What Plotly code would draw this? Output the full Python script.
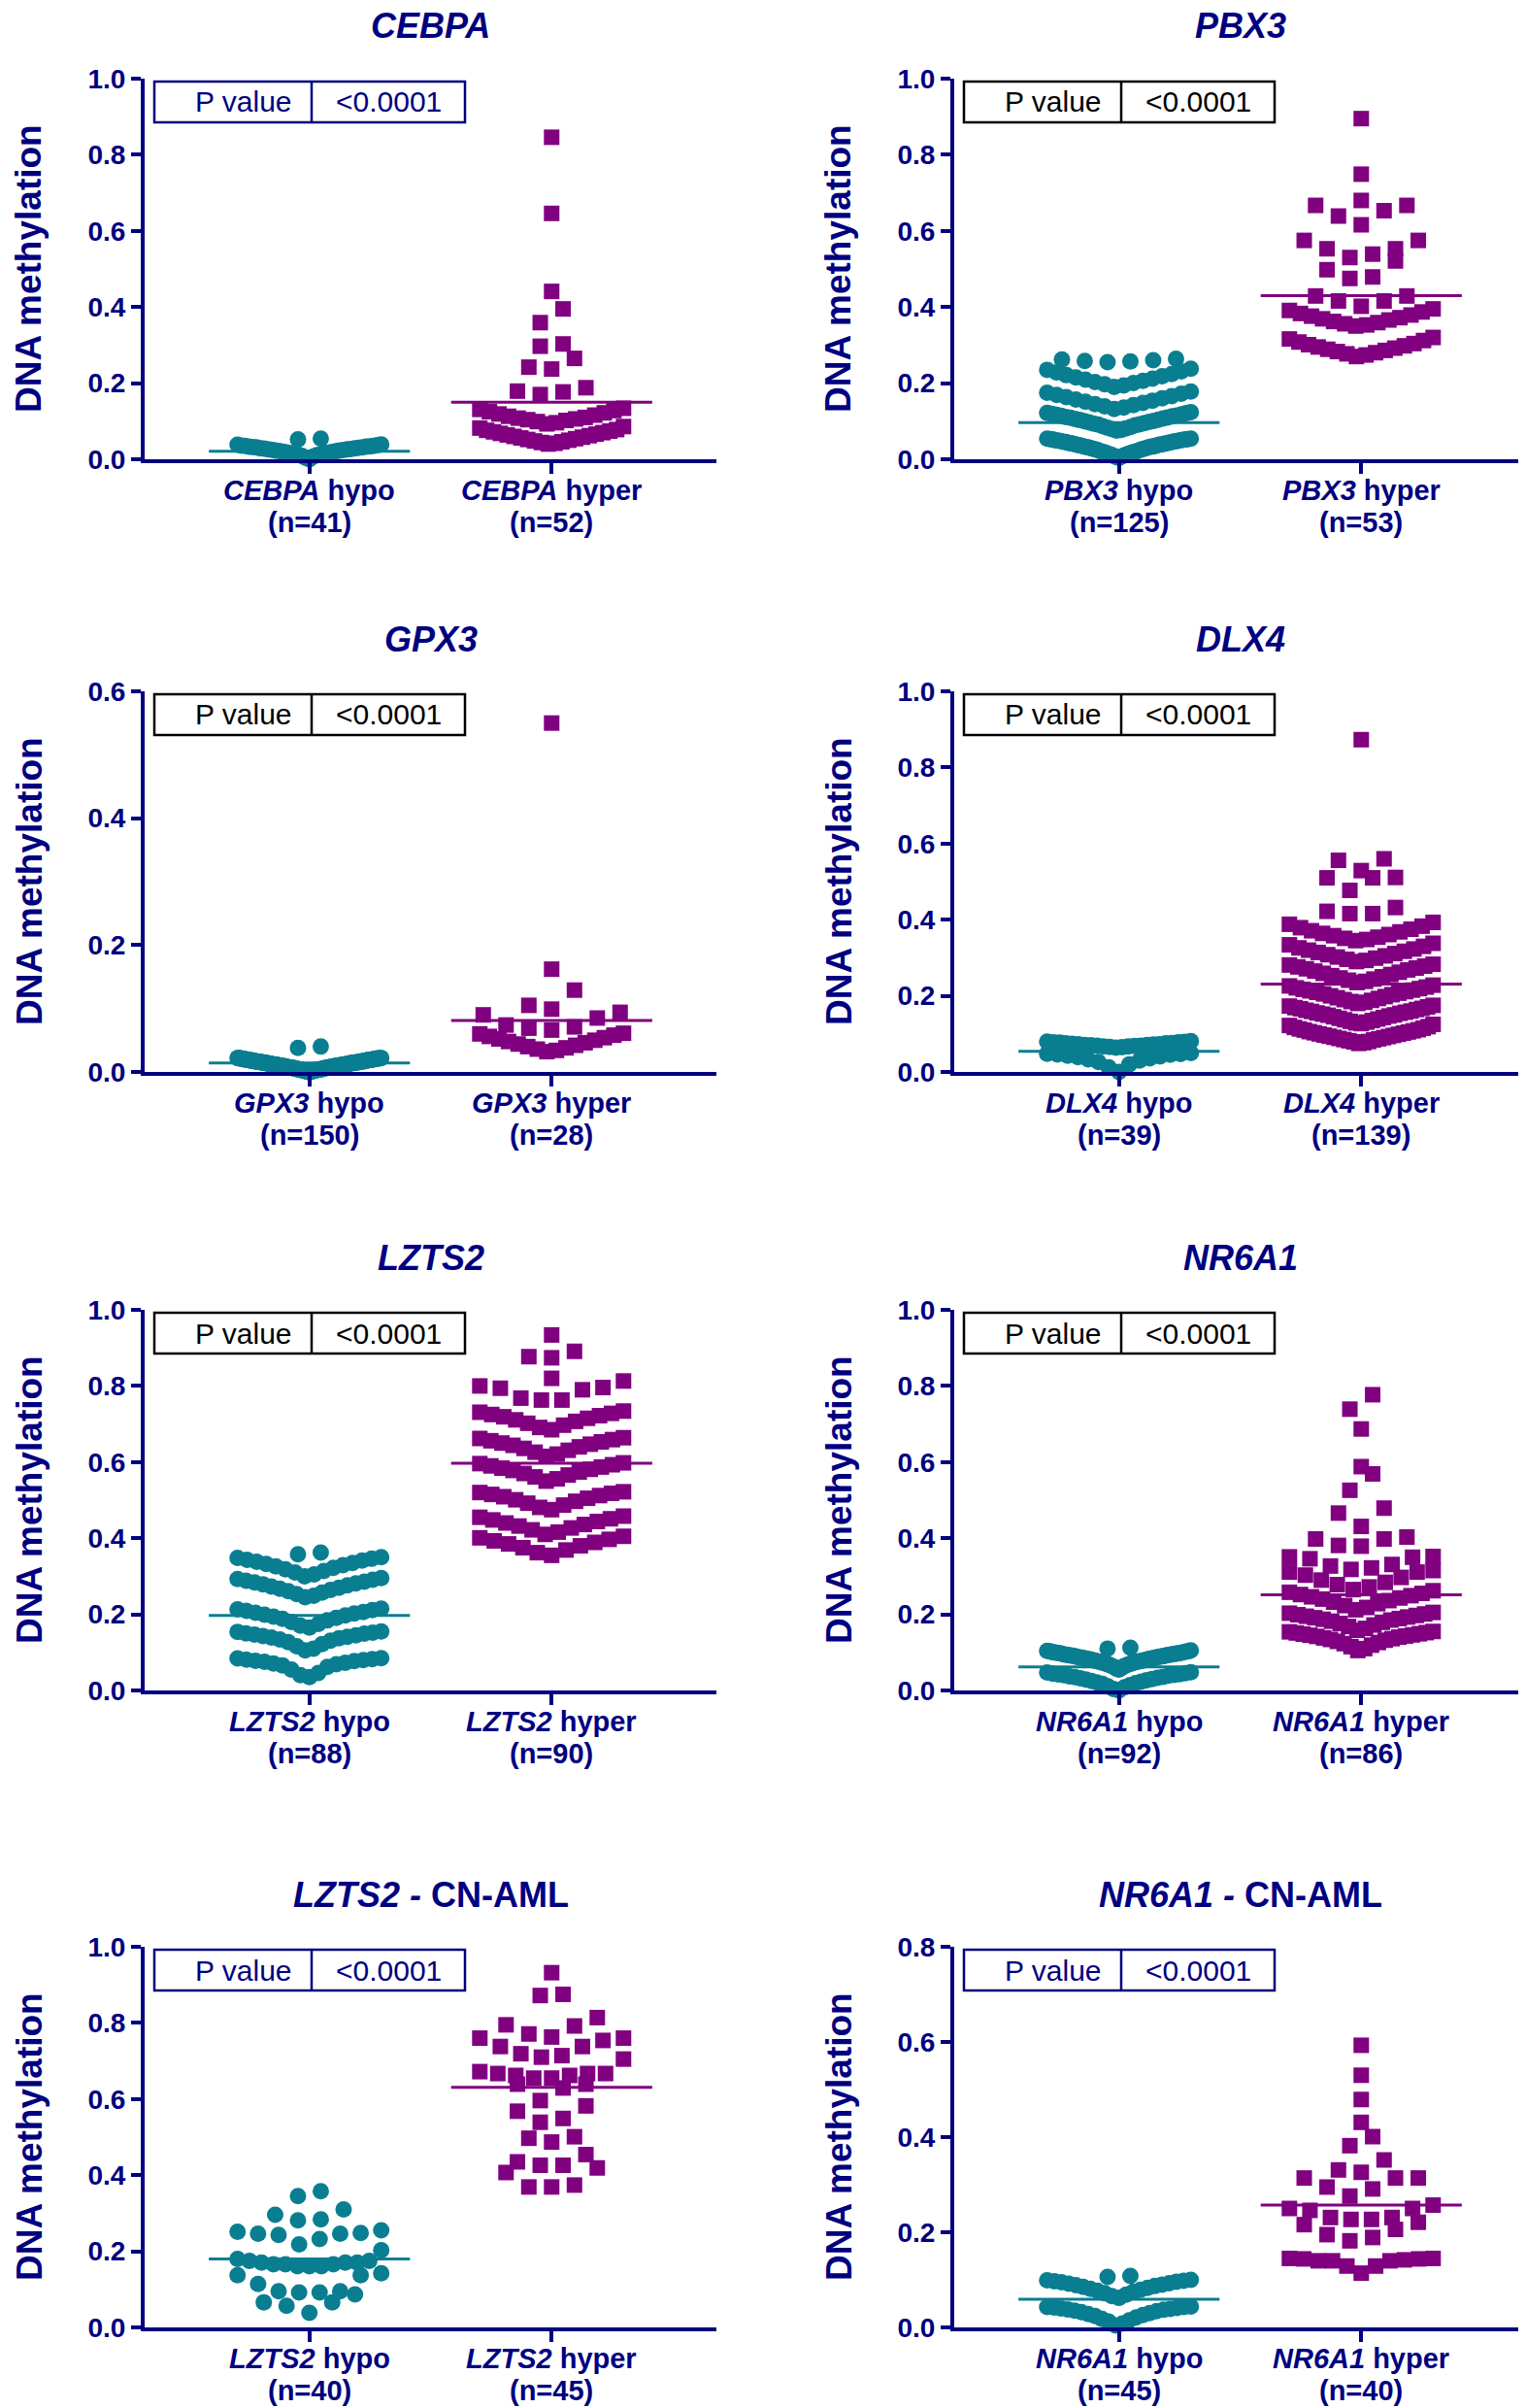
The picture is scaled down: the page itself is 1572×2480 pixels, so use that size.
import plotly.graph_objects as go

PAGE_W, PAGE_H = 1572, 2480
BODY = 8                      # default page margin before the figure
W, H = PAGE_W - BODY, PAGE_H - BODY
NAVY = "#000080"
TEAL = "#0a7e91"
PURPLE = "#800080"
FONT = "Liberation Sans, Arial, Helvetica, sans-serif"

# ---------------- panel descriptors ----------------
genes = ["CEBPA", "PBX3", "GPX3", "DLX4", "LZTS2", "NR6A1", "LZTS2", "NR6A1"]
cn_aml = [False, False, False, False, False, False, True, True]
y_max = [1.0, 1.0, 0.6, 1.0, 1.0, 1.0, 1.0, 0.8]
n_hypo = [41, 125, 150, 39, 88, 92, 40, 45]
n_hyper = [52, 53, 28, 139, 90, 86, 45, 40]
mean_hypo = [0.021, 0.096, 0.014, 0.054, 0.197, 0.062, 0.180, 0.059]
mean_hyper = [0.150, 0.430, 0.081, 0.231, 0.597, 0.251, 0.631, 0.257]
p_text = ["P value", "&lt;0.0001"]
box_navy = [True, False, False, False, False, False, True, True]

# ---------------- values ----------------
cebpa_hypo = [0.000, 0.004, 0.007, 0.009, 0.011, 0.012, 0.013, 0.014, 0.015, 0.016,
              0.017, 0.018, 0.019, 0.020, 0.021, 0.022, 0.023, 0.023, 0.024, 0.025,
              0.026, 0.026, 0.027, 0.028, 0.029, 0.029, 0.030, 0.031, 0.031, 0.032,
              0.033, 0.033, 0.034, 0.035, 0.035, 0.036, 0.037, 0.038, 0.039, 0.052, 0.054]
cebpa_hyper = [0.040, 0.042, 0.044, 0.046, 0.048, 0.050, 0.052, 0.054, 0.056, 0.058,
               0.060, 0.062, 0.064, 0.066, 0.068, 0.070, 0.072, 0.074, 0.076, 0.078,
               0.082, 0.086,
               0.093, 0.096, 0.099, 0.102, 0.104, 0.106, 0.108, 0.110, 0.113, 0.116,
               0.119, 0.122, 0.125, 0.128, 0.131, 0.134,
               0.170, 0.177, 0.179, 0.188, 0.237, 0.242, 0.265, 0.297, 0.303, 0.359,
               0.395, 0.441, 0.646, 0.846]

pbx3_hypo = [0.004, 0.006, 0.007, 0.009, 0.010, 0.012, 0.013, 0.014, 0.015, 0.017,
             0.018, 0.019, 0.020, 0.021, 0.022, 0.024, 0.025, 0.026, 0.027, 0.028,
             0.029, 0.030, 0.031, 0.032, 0.033, 0.033, 0.034, 0.035, 0.036, 0.037,
             0.038, 0.038, 0.039, 0.040, 0.041, 0.042, 0.042, 0.043, 0.044, 0.045,
             0.045, 0.046, 0.047, 0.048, 0.048, 0.049, 0.050, 0.050, 0.051, 0.052,
             0.052, 0.053, 0.053, 0.054, 0.054,
             0.075, 0.077, 0.079, 0.081, 0.083, 0.085, 0.087, 0.089, 0.091, 0.092,
             0.094, 0.095, 0.097, 0.098, 0.100, 0.101, 0.103, 0.104, 0.106, 0.107,
             0.109, 0.110, 0.111, 0.113, 0.114, 0.115, 0.117, 0.118, 0.119, 0.121,
             0.122, 0.124,
             0.132, 0.136, 0.139, 0.142, 0.145, 0.148, 0.151, 0.154, 0.157, 0.160,
             0.163, 0.166, 0.169, 0.172, 0.175, 0.178,
             0.190, 0.194, 0.197, 0.200, 0.203, 0.206, 0.209, 0.212, 0.215, 0.218,
             0.221, 0.224, 0.228, 0.231, 0.235, 0.238,
             0.255, 0.257, 0.258, 0.260, 0.262, 0.264]
pbx3_hyper = [0.270, 0.274, 0.277, 0.280, 0.283, 0.286, 0.289, 0.292, 0.295, 0.298,
              0.301, 0.304, 0.308, 0.312, 0.316, 0.320,
              0.350, 0.353, 0.356, 0.359, 0.362, 0.366, 0.369, 0.372, 0.376, 0.379,
              0.383, 0.387, 0.391, 0.395,
              0.402, 0.416, 0.416, 0.429, 0.429, 0.475, 0.479, 0.498, 0.521, 0.530,
              0.539, 0.553, 0.553, 0.575, 0.575, 0.616, 0.639, 0.653, 0.667, 0.667,
              0.680, 0.749, 0.895]

gpx3_hypo = [0.000, 0.000, 0.000, 0.000, 0.001, 0.001, 0.001, 0.001, 0.002, 0.002,
             0.002, 0.002, 0.002, 0.003, 0.003, 0.003, 0.003, 0.003, 0.004, 0.004,
             0.004, 0.004, 0.004, 0.004, 0.005, 0.005, 0.005, 0.005, 0.005, 0.005,
             0.006, 0.006, 0.006, 0.006, 0.006, 0.006, 0.007, 0.007, 0.007, 0.007,
             0.007, 0.007, 0.007, 0.008, 0.008, 0.008, 0.008, 0.008, 0.008, 0.008,
             0.009, 0.009, 0.009, 0.009, 0.009, 0.009, 0.009, 0.010, 0.010, 0.010,
             0.010, 0.010, 0.010, 0.010, 0.011, 0.011, 0.011, 0.011, 0.011, 0.011,
             0.011, 0.012, 0.012, 0.012, 0.012, 0.012, 0.012, 0.012, 0.013, 0.013,
             0.013, 0.013, 0.013, 0.013, 0.013, 0.014, 0.014, 0.014, 0.014, 0.014,
             0.014, 0.014, 0.015, 0.015, 0.015, 0.015, 0.015, 0.015, 0.015, 0.015,
             0.016, 0.016, 0.016, 0.016, 0.016, 0.016, 0.016, 0.017, 0.017, 0.017,
             0.017, 0.017, 0.017, 0.017, 0.018, 0.018, 0.018, 0.018, 0.018, 0.018,
             0.018, 0.019, 0.019, 0.019, 0.019, 0.019, 0.019, 0.019, 0.020, 0.020,
             0.020, 0.020, 0.020, 0.020, 0.020, 0.021, 0.021, 0.021, 0.021, 0.021,
             0.021, 0.021, 0.022, 0.022, 0.022, 0.022, 0.022, 0.022,
             0.038, 0.040]
gpx3_hyper = [0.032, 0.034, 0.036, 0.038, 0.040, 0.042, 0.044, 0.046, 0.048, 0.050,
              0.052, 0.054, 0.056, 0.058, 0.060, 0.061,
              0.066, 0.069, 0.071, 0.074, 0.085, 0.090, 0.094,
              0.099, 0.105, 0.129, 0.162, 0.550]

dlx4_hypo = [0.000, 0.012, 0.020, 0.026, 0.030, 0.033, 0.036, 0.039, 0.041, 0.043,
             0.045, 0.046, 0.047, 0.048, 0.050,
             0.064, 0.065, 0.066, 0.067, 0.067, 0.068, 0.069, 0.069, 0.070, 0.071,
             0.071, 0.072, 0.073, 0.073, 0.074, 0.075, 0.075, 0.076, 0.077, 0.078,
             0.078, 0.079, 0.080, 0.081]
dlx4_hyper = [0.075, 0.077, 0.079, 0.080, 0.082, 0.084, 0.085, 0.087, 0.088, 0.090,
              0.091, 0.093, 0.094, 0.096, 0.097, 0.099, 0.100, 0.102, 0.103, 0.105,
              0.106, 0.108, 0.110, 0.111, 0.113, 0.115, 0.117, 0.119, 0.122, 0.125,
              0.127, 0.129, 0.131, 0.133, 0.135, 0.137, 0.139, 0.141, 0.143, 0.145,
              0.147, 0.149, 0.150, 0.152, 0.154, 0.155, 0.157, 0.159, 0.160, 0.162,
              0.164, 0.166, 0.167, 0.169, 0.171, 0.173, 0.175,
              0.180, 0.183, 0.185, 0.188, 0.190, 0.193, 0.195, 0.198, 0.200, 0.203,
              0.205, 0.207, 0.209, 0.211, 0.213, 0.215, 0.217, 0.219, 0.221, 0.223,
              0.226, 0.228,
              0.235, 0.238, 0.241, 0.244, 0.247, 0.250, 0.253, 0.256, 0.259, 0.262,
              0.265, 0.268, 0.271, 0.273, 0.276, 0.278, 0.281, 0.283,
              0.290, 0.293, 0.296, 0.299, 0.302, 0.305, 0.308, 0.311, 0.314, 0.317,
              0.320, 0.323, 0.326, 0.330, 0.334, 0.338,
              0.345, 0.348, 0.351, 0.354, 0.358, 0.361, 0.364, 0.368, 0.371, 0.375,
              0.379, 0.383, 0.388, 0.393,
              0.416, 0.416, 0.422, 0.432, 0.477, 0.510, 0.510, 0.511, 0.529, 0.556,
              0.560, 0.873]

lzts2_hypo = [0.035, 0.040, 0.046, 0.055, 0.062, 0.066, 0.069, 0.071, 0.073, 0.075,
              0.077, 0.078, 0.080, 0.081, 0.082, 0.084, 0.085,
              0.105, 0.110, 0.116, 0.122, 0.127, 0.131, 0.134, 0.137, 0.139, 0.141,
              0.143, 0.145, 0.147, 0.149, 0.150, 0.152, 0.154, 0.155,
              0.165, 0.170, 0.175, 0.180, 0.184, 0.188, 0.191, 0.194, 0.197, 0.199,
              0.202, 0.204, 0.206, 0.209, 0.211, 0.213, 0.215,
              0.245, 0.249, 0.253, 0.257, 0.261, 0.264, 0.267, 0.270, 0.273, 0.276,
              0.279, 0.281, 0.284, 0.286, 0.288, 0.291, 0.293, 0.295,
              0.300, 0.305, 0.310, 0.314, 0.318, 0.322, 0.326, 0.329, 0.332, 0.335,
              0.338, 0.341, 0.343, 0.346, 0.348, 0.350,
              0.358, 0.362]
lzts2_hyper = [0.355, 0.362, 0.369, 0.375, 0.380, 0.385, 0.389, 0.393, 0.397, 0.401,
               0.405,
               0.410, 0.416, 0.422, 0.427, 0.432, 0.436, 0.440, 0.444, 0.448, 0.451,
               0.455, 0.458,
               0.475, 0.481, 0.487, 0.492, 0.497, 0.501, 0.505, 0.509, 0.512, 0.515,
               0.518, 0.520, 0.522,
               0.550, 0.556, 0.561, 0.566, 0.570, 0.574, 0.578, 0.581, 0.584, 0.587,
               0.590, 0.593, 0.596, 0.598,
               0.615, 0.621, 0.626, 0.631, 0.636, 0.640, 0.644, 0.647, 0.650, 0.653,
               0.656, 0.659, 0.662, 0.664,
               0.685, 0.691, 0.697, 0.702, 0.707, 0.711, 0.715, 0.719, 0.722, 0.725,
               0.728, 0.731, 0.734,
               0.763, 0.763, 0.768, 0.790, 0.794, 0.796, 0.800, 0.813, 0.820, 0.874,
               0.877, 0.891, 0.934]

nr6a1_hypo = [0.000, 0.004, 0.008, 0.011, 0.014, 0.017, 0.019, 0.021, 0.023, 0.025,
              0.027, 0.029, 0.030, 0.032, 0.033, 0.035, 0.036, 0.037, 0.039, 0.040,
              0.041, 0.042, 0.043, 0.044, 0.045, 0.047, 0.048,
              0.055, 0.057, 0.059, 0.061, 0.063, 0.064, 0.066, 0.067, 0.068, 0.069,
              0.070, 0.071, 0.072, 0.073, 0.074, 0.075, 0.075, 0.076, 0.077, 0.078,
              0.078, 0.079, 0.080, 0.081, 0.081, 0.082, 0.083, 0.083, 0.084, 0.085,
              0.085, 0.086, 0.087, 0.087, 0.088, 0.088, 0.089, 0.090, 0.090, 0.091,
              0.091, 0.092, 0.093, 0.093, 0.094, 0.094, 0.095, 0.095, 0.096, 0.097,
              0.097, 0.098, 0.098, 0.099, 0.099, 0.100, 0.101, 0.101, 0.102, 0.103,
              0.103, 0.104, 0.105,
              0.110, 0.112]
nr6a1_hyper = [0.105, 0.110, 0.115, 0.119, 0.123, 0.126, 0.129, 0.132, 0.134, 0.136,
               0.138, 0.140, 0.142, 0.143, 0.145, 0.146, 0.148, 0.149, 0.151, 0.152,
               0.154, 0.155,
               0.158, 0.163, 0.168, 0.172, 0.176, 0.179, 0.182, 0.185, 0.187, 0.189,
               0.191, 0.193, 0.195, 0.197, 0.199, 0.201, 0.203, 0.205,
               0.212, 0.218, 0.223, 0.228, 0.232, 0.236, 0.240, 0.243, 0.246, 0.249,
               0.252, 0.255, 0.258, 0.262,
               0.265, 0.272, 0.278, 0.284, 0.290, 0.297, 0.303, 0.311, 0.311, 0.315,
               0.318, 0.322, 0.327, 0.331, 0.346, 0.350, 0.351, 0.352,
               0.379, 0.381, 0.398, 0.398, 0.403, 0.431, 0.466, 0.479, 0.526, 0.569,
               0.588, 0.687, 0.739, 0.777]

lzts2cn_hypo = [0.038, 0.057, 0.066, 0.066, 0.087, 0.092, 0.092, 0.095, 0.095, 0.114,
                0.137, 0.137, 0.142, 0.161, 0.161, 0.161, 0.166, 0.166, 0.166, 0.170,
                0.170, 0.170, 0.175, 0.175, 0.180, 0.203, 0.218, 0.232, 0.243, 0.246,
                0.246, 0.248, 0.251, 0.255, 0.281, 0.284, 0.296, 0.310, 0.345, 0.358]
lzts2cn_hyper = [0.932, 0.875, 0.872, 0.814, 0.795, 0.792, 0.760, 0.771, 0.763, 0.760,
                 0.754, 0.738, 0.719, 0.710, 0.705, 0.714, 0.738, 0.667, 0.662, 0.655,
                 0.667, 0.662, 0.672, 0.655, 0.667, 0.629, 0.639, 0.639, 0.582, 0.568,
                 0.596, 0.539, 0.549, 0.497, 0.501, 0.487, 0.454, 0.435, 0.426, 0.419,
                 0.426, 0.407, 0.374, 0.369, 0.369]

nr6a1cn_hypo = [0.004, 0.008, 0.012, 0.015, 0.018, 0.021, 0.024, 0.026, 0.028, 0.030,
                0.032, 0.034, 0.035, 0.037, 0.038, 0.039, 0.040, 0.041, 0.042, 0.043,
                0.043, 0.044,
                0.062, 0.066, 0.069, 0.072, 0.075, 0.077, 0.079, 0.081, 0.083, 0.085,
                0.087, 0.089, 0.090, 0.092, 0.093, 0.095, 0.096, 0.097, 0.098, 0.099,
                0.100,
                0.106, 0.108]
nr6a1cn_hyper = [0.593, 0.530, 0.479, 0.431, 0.401, 0.382, 0.352, 0.331, 0.314, 0.314,
                 0.314, 0.326, 0.291, 0.295, 0.276, 0.250, 0.246, 0.250, 0.257, 0.227,
                 0.221, 0.231, 0.231, 0.227, 0.206, 0.216, 0.189, 0.182, 0.195, 0.145,
                 0.144, 0.142, 0.140, 0.129, 0.114, 0.129, 0.140, 0.140, 0.144, 0.145]

hypo_values = [cebpa_hypo, pbx3_hypo, gpx3_hypo, dlx4_hypo, lzts2_hypo, nr6a1_hypo,
               lzts2cn_hypo, nr6a1cn_hypo]
hyper_values = [cebpa_hyper, pbx3_hyper, gpx3_hyper, dlx4_hyper, lzts2_hyper, nr6a1_hyper,
                lzts2cn_hyper, nr6a1cn_hyper]

# ---------------- geometry (page pixels) ----------------
AX_X = [149, 983]          # y-axis line x for the two columns
AX_END = [738, 1572]       # right end of x-axis
TOPS = [81, 712, 1349, 2005]
PH = 392                   # plot height
XR = [-0.68, 1.68]
PX_PER_CAT = (AX_END[0] - AX_X[0]) / (XR[1] - XR[0])

BIN_PX = 20.0      # vertical bin height of the scatter-dot layout
STEP_PX = 23.5     # default horizontal spacing of points in a bin
MAXW_PX = 148.0    # maximum spread of a bin
MEAN_HALF = 0.415  # half width of mean line, category units


def swarm(vals, ymax, cat):
    h = BIN_PX * ymax / PH
    s_def = STEP_PX / PX_PER_CAT
    wmax = MAXW_PX / PX_PER_CAT
    v = sorted(vals)
    xs, ys = [], []
    i = 0
    while i < len(v):
        start = v[i]
        j = i
        while j < len(v) and v[j] < start + h - 1e-12:
            j += 1
        grp = v[i:j]
        n = len(grp)
        step = s_def if n < 2 else min(s_def, wmax / (n - 1))
        slots = [(k - (n - 1) / 2.0) * step for k in range(n)]
        order = sorted(range(n), key=lambda k: (round(abs(slots[k]), 9), slots[k]))
        for val, k in zip(grp, order):
            xs.append(cat + slots[k])
            ys.append(val)
        i = j
    return xs, ys


def pxx(px):
    return (px - BODY) / W


def pxy(py):
    return 1 - (py - BODY) / H


fig = go.Figure()
layout = dict(width=W, height=H,
              margin=dict(l=0, r=0, t=0, b=0, pad=0, autoexpand=False),
              paper_bgcolor="white", plot_bgcolor="white", showlegend=False)
annotations = []
shapes = []

for p in range(8):
    col = p % 2
    row = p // 2
    ax = AX_X[col]
    top = TOPS[row]
    bot = top + PH
    xa = "x" if p == 0 else f"x{p + 1}"
    ya = "y" if p == 0 else f"y{p + 1}"
    xkey = "xaxis" if p == 0 else f"xaxis{p + 1}"
    ykey = "yaxis" if p == 0 else f"yaxis{p + 1}"
    ym = y_max[p]
    xr = [XR[0], XR[0] + (AX_END[col] - ax) / PX_PER_CAT]

    layout[xkey] = dict(domain=[pxx(ax), min(1.0, pxx(AX_END[col]))], range=xr, anchor=ya,
                        showgrid=False, zeroline=False, showline=True, linewidth=4,
                        linecolor=NAVY, ticks="outside", ticklen=11, tickwidth=3.5,
                        tickcolor=NAVY, tickvals=[0, 1], showticklabels=False,
                        automargin=False, fixedrange=True)
    layout[ykey] = dict(domain=[pxy(bot), pxy(top)], range=[0, ym], anchor=xa,
                        showgrid=False, zeroline=False, showline=True, linewidth=4,
                        linecolor=NAVY, ticks="outside", ticklen=10, tickwidth=3.5,
                        tickcolor=NAVY, tick0=0, dtick=0.2, tickformat=".1f",
                        tickfont=dict(family=FONT, size=28, color=NAVY, weight="bold"),
                        automargin=False, fixedrange=True)

    # points
    hx, hy = swarm(hypo_values[p], ym, 0)
    fig.add_trace(go.Scatter(x=hx, y=hy, xaxis=xa, yaxis=ya, mode="markers",
                             marker=dict(symbol="circle", size=17, color=TEAL,
                                         line=dict(width=0)),
                             cliponaxis=False, hoverinfo="y"))
    rx, ry = swarm(hyper_values[p], ym, 1)
    fig.add_trace(go.Scatter(x=rx, y=ry, xaxis=xa, yaxis=ya, mode="markers",
                             marker=dict(symbol="square", size=16, color=PURPLE,
                                         line=dict(width=0)),
                             cliponaxis=False, hoverinfo="y"))
    # mean lines
    fig.add_trace(go.Scatter(x=[-MEAN_HALF, MEAN_HALF], y=[mean_hypo[p]] * 2,
                             xaxis=xa, yaxis=ya, mode="lines",
                             line=dict(color=TEAL, width=3), hoverinfo="skip"))
    fig.add_trace(go.Scatter(x=[1 - MEAN_HALF, 1 + MEAN_HALF], y=[mean_hyper[p]] * 2,
                             xaxis=xa, yaxis=ya, mode="lines",
                             line=dict(color=PURPLE, width=3), hoverinfo="skip"))

    # title
    g = genes[p]
    title = f"<i>{g} -</i> CN-AML" if cn_aml[p] else f"<i>{g}</i>"
    cat0_px = ax + (0 - XR[0]) * PX_PER_CAT
    cat1_px = ax + (1 - XR[0]) * PX_PER_CAT
    annotations.append(dict(text=title, x=pxx((cat0_px + cat1_px) / 2), y=pxy(top - 54),
                            xref="paper", yref="paper", showarrow=False,
                            xanchor="center", yanchor="middle",
                            font=dict(family=FONT, size=36, color=NAVY, weight="bold")))
    # y label
    annotations.append(dict(text="DNA methylation", x=pxx(ax - 119), y=pxy((top + bot) / 2),
                            xref="paper", yref="paper", showarrow=False, textangle=-90,
                            xanchor="center", yanchor="middle",
                            font=dict(family=FONT, size=37, color=NAVY, weight="bold")))
    # category labels
    for cat, kind, n in [(0, "hypo", n_hypo[p]), (1, "hyper", n_hyper[p])]:
        annotations.append(dict(text=f"<i>{g}</i> {kind}", x=cat, y=pxy(bot + 32),
                                xref=xa, yref="paper", showarrow=False,
                                xanchor="center", yanchor="middle",
                                font=dict(family=FONT, size=29, color=NAVY, weight="bold")))
        annotations.append(dict(text=f"(n={n})", x=cat, y=pxy(bot + 65),
                                xref=xa, yref="paper", showarrow=False,
                                xanchor="center", yanchor="middle",
                                font=dict(family=FONT, size=29, color=NAVY, weight="bold")))
    # P value box
    bc = NAVY if box_navy[p] else "black"
    bx0, bx1, bdiv = ax + 10, ax + 330, ax + 172
    by0, by1 = top + 3, top + 45
    shapes.append(dict(type="rect", xref="paper", yref="paper",
                       x0=pxx(bx0), x1=pxx(bx1), y0=pxy(by1), y1=pxy(by0),
                       line=dict(color=bc, width=2.5), fillcolor="rgba(0,0,0,0)"))
    shapes.append(dict(type="line", xref="paper", yref="paper",
                       x0=pxx(bdiv), x1=pxx(bdiv), y0=pxy(by1), y1=pxy(by0),
                       line=dict(color=bc, width=2.5)))
    annotations.append(dict(text=p_text[0], x=pxx(bdiv - 18), y=pxy((by0 + by1) / 2),
                            xref="paper", yref="paper", showarrow=False,
                            xanchor="right", yanchor="middle",
                            font=dict(family=FONT, size=30, color=bc)))
    annotations.append(dict(text=p_text[1], x=pxx((bdiv + bx1) / 2), y=pxy((by0 + by1) / 2),
                            xref="paper", yref="paper", showarrow=False,
                            xanchor="center", yanchor="middle",
                            font=dict(family=FONT, size=30, color=bc)))

layout["annotations"] = annotations
layout["shapes"] = shapes
fig.update_layout(**layout)
fig.write_html("out.html")
